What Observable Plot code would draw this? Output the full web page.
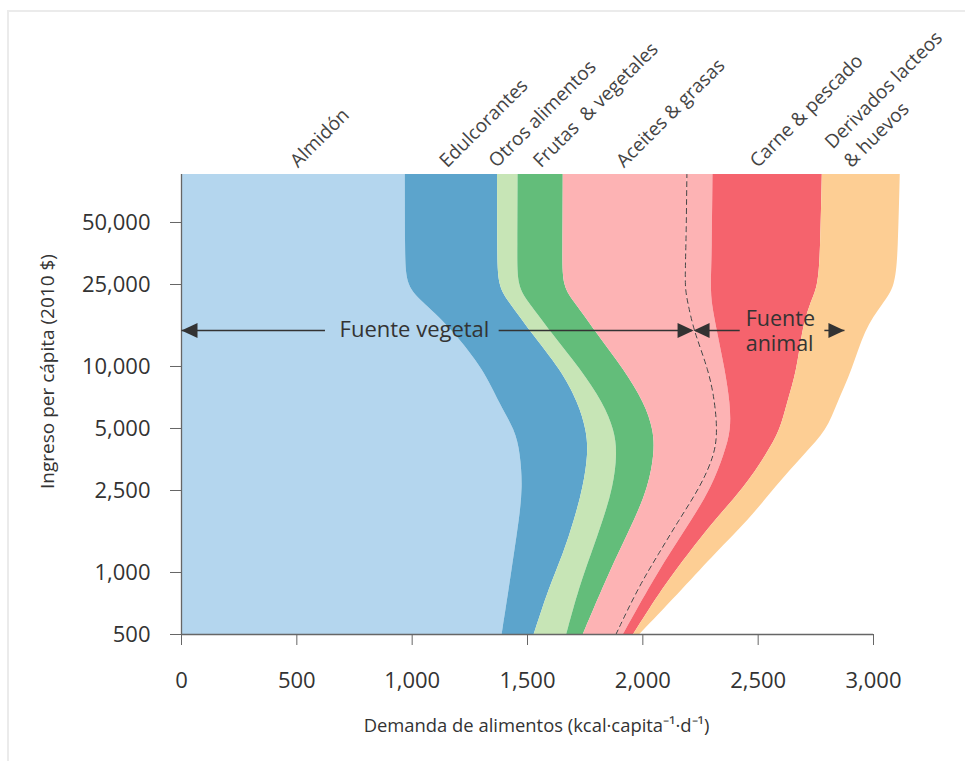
<!DOCTYPE html>
<html>
<head>
<meta charset="utf-8">
<script src="https://cdn.jsdelivr.net/npm/d3@7"></script>
<script src="https://cdn.jsdelivr.net/npm/@observablehq/plot@0.6"></script>
<style>
  html, body { margin: 0; padding: 0; background: #fff; overflow: hidden; }
  #wrap { position: relative; width: 965px; height: 761px; }
  #frame { position: absolute; left: 7px; top: 10px; width: 1000px; height: 800px; border: 2px solid #ebebeb; box-sizing: border-box; }
  #chart { position: absolute; left: 0; top: 0; }
</style>
</head>
<body>
<div id="wrap"><div id="frame"></div><div id="chart"></div></div>
<script>
// ---- Data (kcal per capita per day, by income level in 2010 $) ----
const incomes      = [500, 850, 1230, 1790, 2590, 3770, 4890, 6610, 9570, 14960, 20200, 24150, 36500, 85500];
const almidon      = [1390, 1422, 1443, 1465, 1481, 1470, 1448, 1378, 1313, 1177, 1055, 974, 971, 970];
const edulcorantes = [139, 174, 214, 239, 262, 295, 309, 344, 335, 332, 371, 399, 400, 400];
const otros        = [141, 130, 121, 125, 130, 126, 121, 108, 87, 87, 84, 84, 87, 89];
const frutas       = [72, 103, 116, 136, 152, 161, 170, 179, 187, 195, 200, 195, 196, 196];
const aceitesVeg   = [141, 152, 174, 190, 223, 261, 274, 304, 364, 429, 486, 529, 533, 536];
const grasasAnim   = [33, 49, 49, 58, 52, 42, 62, 67, 72, 102, 104, 115, 114, 113];
const carne        = [44, 60, 82, 100, 143, 184, 213, 246, 312, 369, 426, 465, 470, 474];
const derivados    = [27, 93, 114, 147, 131, 165, 203, 217, 239, 270, 316, 335, 337, 338];

const seriesKeys   = ["Almidón", "Edulcorantes", "Otros alimentos", "Frutas & vegetales", "Aceites vegetales", "Grasas animales", "Carne & pescado", "Derivados lacteos & huevos"];
const seriesValues = [almidon, edulcorantes, otros, frutas, aceitesVeg, grasasAnim, carne, derivados];
const seriesColors = ["#b4d6ee", "#5ca4cc", "#c7e5b6", "#63bd7a", "#fdb3b4", "#fdb3b4", "#f5636d", "#fdce94"];

const xTicks = [0, 500, 1000, 1500, 2000, 2500, 3000];
const yTicks = [500, 1000, 2500, 5000, 10000, 25000, 50000];

// top category labels (x position in kcal)
const labelTexts = ["Almidón", "Edulcorantes", "Otros alimentos", "Frutas\u00a0 & vegetales", "Aceites & grasas", "Carne & pescado", "Derivados lacteos\n& huevos"];
const labelX     = [505, 1152, 1366, 1558, 1918, 2498, 2905];

// annotation: arrows "Fuente vegetal" / "Fuente animal"
const annoIndex = 9;                // income level of the arrows
const vegTextX = 1010;
const vegGap = [622, 1375];         // line break around the text (kcal)
const animTextX = 2446;
const animLineEnd = 2420;
const animArrowSeg = [2787, 2874];  // short segment + right arrow tip

const yLabel = "Ingreso per cápita (2010 $)";
const xLabel = "Demanda de alimentos (kcal·capita⁻¹·d⁻¹)";

// ---- build tables ----
const rows = [];
seriesKeys.forEach((k, j) => incomes.forEach((inc, i) => rows.push({cat: k, income: inc, kcal: seriesValues[j][i]})));
const dashRows = incomes.map((inc, i) => ({income: inc, kcal: almidon[i] + edulcorantes[i] + otros[i] + frutas[i] + aceitesVeg[i]}));
const annoY = incomes[annoIndex];
const dashAt = dashRows[annoIndex].kcal;

const headRight = {draw(ctx) { ctx.moveTo(0, 0); ctx.lineTo(-16, -7.5); ctx.lineTo(-16, 7.5); ctx.closePath(); }};
const headLeft  = {draw(ctx) { ctx.moveTo(0, 0); ctx.lineTo(16, -7.5); ctx.lineTo(16, 7.5); ctx.closePath(); }};

const ink = "#333";
const fmt = d3.format(",");

const chart = Plot.plot({
  width: 965,
  height: 761,
  marginLeft: 181,
  marginRight: 92,
  marginTop: 174,
  marginBottom: 127,
  style: {fontFamily: "'Open Sans', sans-serif", color: ink, background: "transparent", overflow: "visible"},
  x: {domain: [0, 3000]},
  y: {type: "log", domain: [500, 85500]},
  color: {domain: seriesKeys, range: seriesColors},
  marks: [
    Plot.areaX(rows, {y: "income", x: "kcal", z: "cat", fill: "cat", order: seriesKeys, curve: "basis"}),
    Plot.lineX(dashRows, {x: "kcal", y: "income", curve: "basis", stroke: "#444", strokeWidth: 1, strokeDasharray: "5,4"}),
    // axes
    Plot.axisX({ticks: xTicks, tickSize: 11, tickPadding: 27, tickFormat: fmt, fontSize: 22, label: null, stroke: "#666", fill: ink}),
    Plot.axisY({ticks: yTicks, tickSize: 11, tickFormat: () => "", label: null, stroke: "#666"}),
    Plot.text(yTicks, {y: d => d, text: d => fmt(d), frameAnchor: "left", dx: -31, textAnchor: "end", fontSize: 22, fill: ink}),
    Plot.ruleX([0], {stroke: "#666", strokeWidth: 1.3}),
    Plot.ruleY([500], {stroke: "#666", strokeWidth: 1.3}),
    Plot.text([xLabel], {frameAnchor: "bottom", dy: 97, dx: 9, fontSize: 18.4, fill: ink}),
    Plot.text([yLabel], {frameAnchor: "left", dx: -134, dy: -33, rotate: -90, textAnchor: "middle", fontSize: 19, fill: ink}),
    // category labels
    Plot.text(labelTexts, {x: (d, i) => labelX[i], frameAnchor: "top", dy: -6, rotate: -45, textAnchor: "start", lineAnchor: "bottom", lineHeight: 1.4, fontSize: 19, fill: "#444"}),
    // Fuente vegetal arrow
    Plot.link([[0, vegGap[0]], [vegGap[1], dashAt - 8]], {x1: d => d[0], x2: d => d[1], y1: annoY, y2: annoY, stroke: ink, strokeWidth: 1.5}),
    Plot.dot([0], {x: d => d, y: annoY, symbol: headLeft, fill: ink, stroke: "none", r: 6}),
    Plot.dot([dashAt], {x: d => d, y: annoY, symbol: headRight, fill: ink, stroke: "none", r: 6}),
    Plot.text(["Fuente vegetal"], {x: vegTextX, y: annoY, fontSize: 22, fill: ink, textAnchor: "middle"}),
    // Fuente animal arrow
    Plot.link([[dashAt + 8, animLineEnd], animArrowSeg], {x1: d => d[0], x2: d => d[1], y1: annoY, y2: annoY, stroke: ink, strokeWidth: 1.5}),
    Plot.dot([dashAt], {x: d => d, y: annoY, symbol: headLeft, fill: ink, stroke: "none", r: 6}),
    Plot.dot([animArrowSeg[1]], {x: d => d, y: annoY, symbol: headRight, fill: ink, stroke: "none", r: 6}),
    Plot.text(["Fuente"], {x: animTextX, y: annoY, fontSize: 21.5, fill: ink, textAnchor: "start", lineAnchor: "bottom", dy: -4}),
    Plot.text(["animal"], {x: animTextX, y: annoY, fontSize: 21.5, fill: ink, textAnchor: "start", lineAnchor: "top", dy: 5})
  ]
});
document.getElementById("chart").appendChild(chart);
</script>
</body>
</html>
